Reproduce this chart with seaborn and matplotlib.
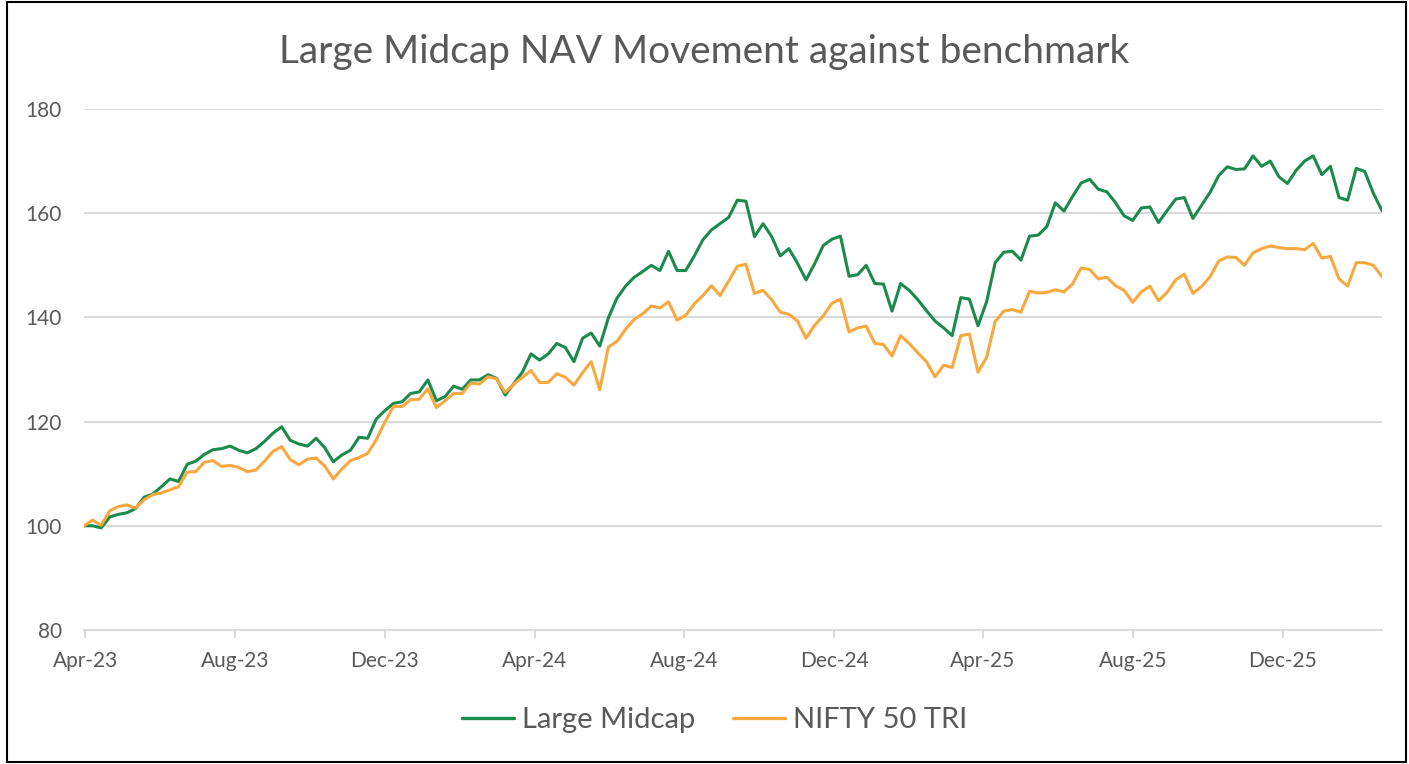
import matplotlib
matplotlib.use("Agg")
import matplotlib.pyplot as plt
import matplotlib.dates as mdates
from matplotlib.lines import Line2D
from matplotlib.patches import Rectangle
import numpy as np
import pandas as pd
import seaborn as sns

# ---------------- data (weekly readings) ----------------
title = "Large Midcap NAV Movement against benchmark"
series_names = ["Large Midcap", "NIFTY 50 TRI"]
y_ticks = [80, 100, 120, 140, 160, 180]
start_date = "2023-03-31"
end_date = "2026-02-20"

large_midcap = [
    100.0, 100.0, 99.6, 101.7, 102.2, 102.5, 103.3, 105.5, 106.1, 107.5,
    109.0, 108.5, 111.8, 112.4, 113.7, 114.6, 114.8, 115.3, 114.5, 114.0,
    114.8, 116.2, 117.8, 119.0, 116.4, 115.7, 115.3, 116.8, 115.0, 112.3,
    113.6, 114.5, 117.0, 116.8, 120.5, 122.1, 123.5, 123.8, 125.4, 125.7,
    128.0, 124.0, 124.8, 126.8, 126.2, 128.0, 128.0, 129.0, 128.3, 125.1,
    127.3, 129.5, 133.0, 131.8, 133.0, 135.0, 134.2, 131.5, 136.0, 137.0,
    134.5, 139.9, 143.7, 146.0, 147.7, 148.8, 150.0, 149.0, 152.7, 149.0,
    149.0, 151.8, 154.9, 156.8, 158.0, 159.2, 162.5, 162.3, 155.5, 158.0,
    155.5, 151.8, 153.2, 150.4, 147.2, 150.3, 153.8, 155.0, 155.6, 147.9,
    148.2, 150.0, 146.5, 146.4, 141.2, 146.5, 145.2, 143.4, 141.3, 139.3,
    138.0, 136.5, 143.8, 143.5, 138.4, 143.0, 150.5, 152.5, 152.7, 151.0,
    155.6, 155.8, 157.4, 162.0, 160.4, 163.2, 165.8, 166.5, 164.6, 164.1,
    162.0, 159.5, 158.6, 161.0, 161.2, 158.2, 160.5, 162.7, 163.0, 159.0,
    161.5, 164.0, 167.2, 168.9, 168.4, 168.5, 171.0, 169.0, 170.0, 167.0,
    165.7, 168.2, 170.0, 171.0, 167.4, 169.0, 163.0, 162.5, 168.6, 168.0,
    163.8, 160.5,
]

nifty50_tri = [
    100.0, 101.1, 100.1, 102.9, 103.7, 104.0, 103.4, 105.0, 106.0, 106.3,
    106.9, 107.5, 110.3, 110.4, 112.2, 112.5, 111.4, 111.6, 111.2, 110.4,
    110.7, 112.4, 114.3, 115.2, 112.7, 111.7, 112.8, 113.0, 111.5, 109.0,
    110.9, 112.5, 113.1, 113.9, 116.5, 119.9, 122.9, 122.9, 124.2, 124.3,
    126.3, 122.7, 124.0, 125.4, 125.4, 127.4, 127.2, 128.6, 128.2, 125.6,
    127.2, 128.5, 129.8, 127.5, 127.5, 129.2, 128.5, 127.0, 129.4, 131.5,
    126.1, 134.3, 135.4, 137.7, 139.6, 140.7, 142.2, 141.8, 143.0, 139.5,
    140.4, 142.6, 144.2, 146.1, 144.2, 147.0, 149.8, 150.2, 144.6, 145.2,
    143.4, 141.0, 140.6, 139.3, 136.0, 138.5, 140.3, 142.7, 143.5, 137.2,
    138.0, 138.3, 135.0, 134.8, 132.6, 136.5, 135.0, 133.2, 131.5, 128.6,
    130.8, 130.4, 136.5, 136.8, 129.5, 132.3, 139.2, 141.2, 141.5, 141.0,
    145.0, 144.7, 144.8, 145.3, 144.9, 146.4, 149.5, 149.2, 147.4, 147.7,
    146.1, 145.2, 142.9, 144.9, 146.0, 143.2, 144.8, 147.2, 148.3, 144.6,
    145.9, 147.8, 150.8, 151.6, 151.5, 150.0, 152.4, 153.2, 153.7, 153.4,
    153.2, 153.2, 153.0, 154.2, 151.4, 151.7, 147.4, 146.0, 150.5, 150.5,
    150.0, 147.8,
]

# ---------------- build frame ----------------
dates = pd.date_range(start_date, end_date, freq="W-FRI")
df = pd.DataFrame({
    "Date": np.concatenate([dates.values, dates.values]),
    "Value": large_midcap + nifty50_tri,
    "Series": [series_names[0]] * len(large_midcap) + [series_names[1]] * len(nifty50_tri),
})

colors = {series_names[0]: "#1B8A4C", series_names[1]: "#F7A83E"}
grid_col = "#D9D9D9"
text_col = "#595959"

sns.set_theme(style="white")
plt.rcParams["font.family"] = ["Lato", "DejaVu Sans"]

W, H = 1409, 764
fig = plt.figure(figsize=(W / 100, H / 100), dpi=100)
ax = fig.add_axes([84 / W, 1 - 630 / H, (1382 - 84) / W, (630 - 109) / H])

sns.lineplot(data=df, x="Date", y="Value", hue="Series", palette=colors,
             linewidth=2.2, ax=ax, legend=False)

ax.set_ylim(80, 180)
ax.set_yticks(y_ticks)
ax.set_xlim(dates[0], dates[-1])
ax.xaxis.set_major_locator(mdates.MonthLocator(bymonth=[4, 8, 12]))
ax.xaxis.set_major_formatter(mdates.DateFormatter("%b-%y"))
ax.set_xlabel("")
ax.set_ylabel("")

ax.grid(axis="y", color=grid_col, linewidth=1.4)
ax.grid(axis="x", visible=False)
ax.set_axisbelow(True)
for s in ["left", "right", "top"]:
    ax.spines[s].set_visible(False)
ax.spines["bottom"].set_color(grid_col)
ax.spines["bottom"].set_linewidth(1.4)

ax.tick_params(axis="x", length=6, width=1.4, color=grid_col, direction="out",
               pad=9, labelsize=15, labelcolor=text_col, bottom=True)
ax.tick_params(axis="y", length=0, pad=16, labelsize=15, labelcolor=text_col)

fig.text(0.5, 1 - 63 / H, title, ha="center", va="baseline",
         fontsize=28, color=text_col)

handles = [Line2D([0], [0], color=colors[n], lw=2.4) for n in series_names]
fig.legend(handles, series_names, loc="center", bbox_to_anchor=(0.507, 1 - 720 / H),
           ncol=2, frameon=False, fontsize=21, handlelength=1.8,
           handletextpad=0.25, columnspacing=1.3, labelcolor=text_col)

fig.patches.append(Rectangle((7 / W, 2 / H), (1406 - 7) / W, (762 - 2) / H,
                             transform=fig.transFigure, fill=False,
                             edgecolor="black", linewidth=1.5))

fig.savefig("out.png", dpi=100)
